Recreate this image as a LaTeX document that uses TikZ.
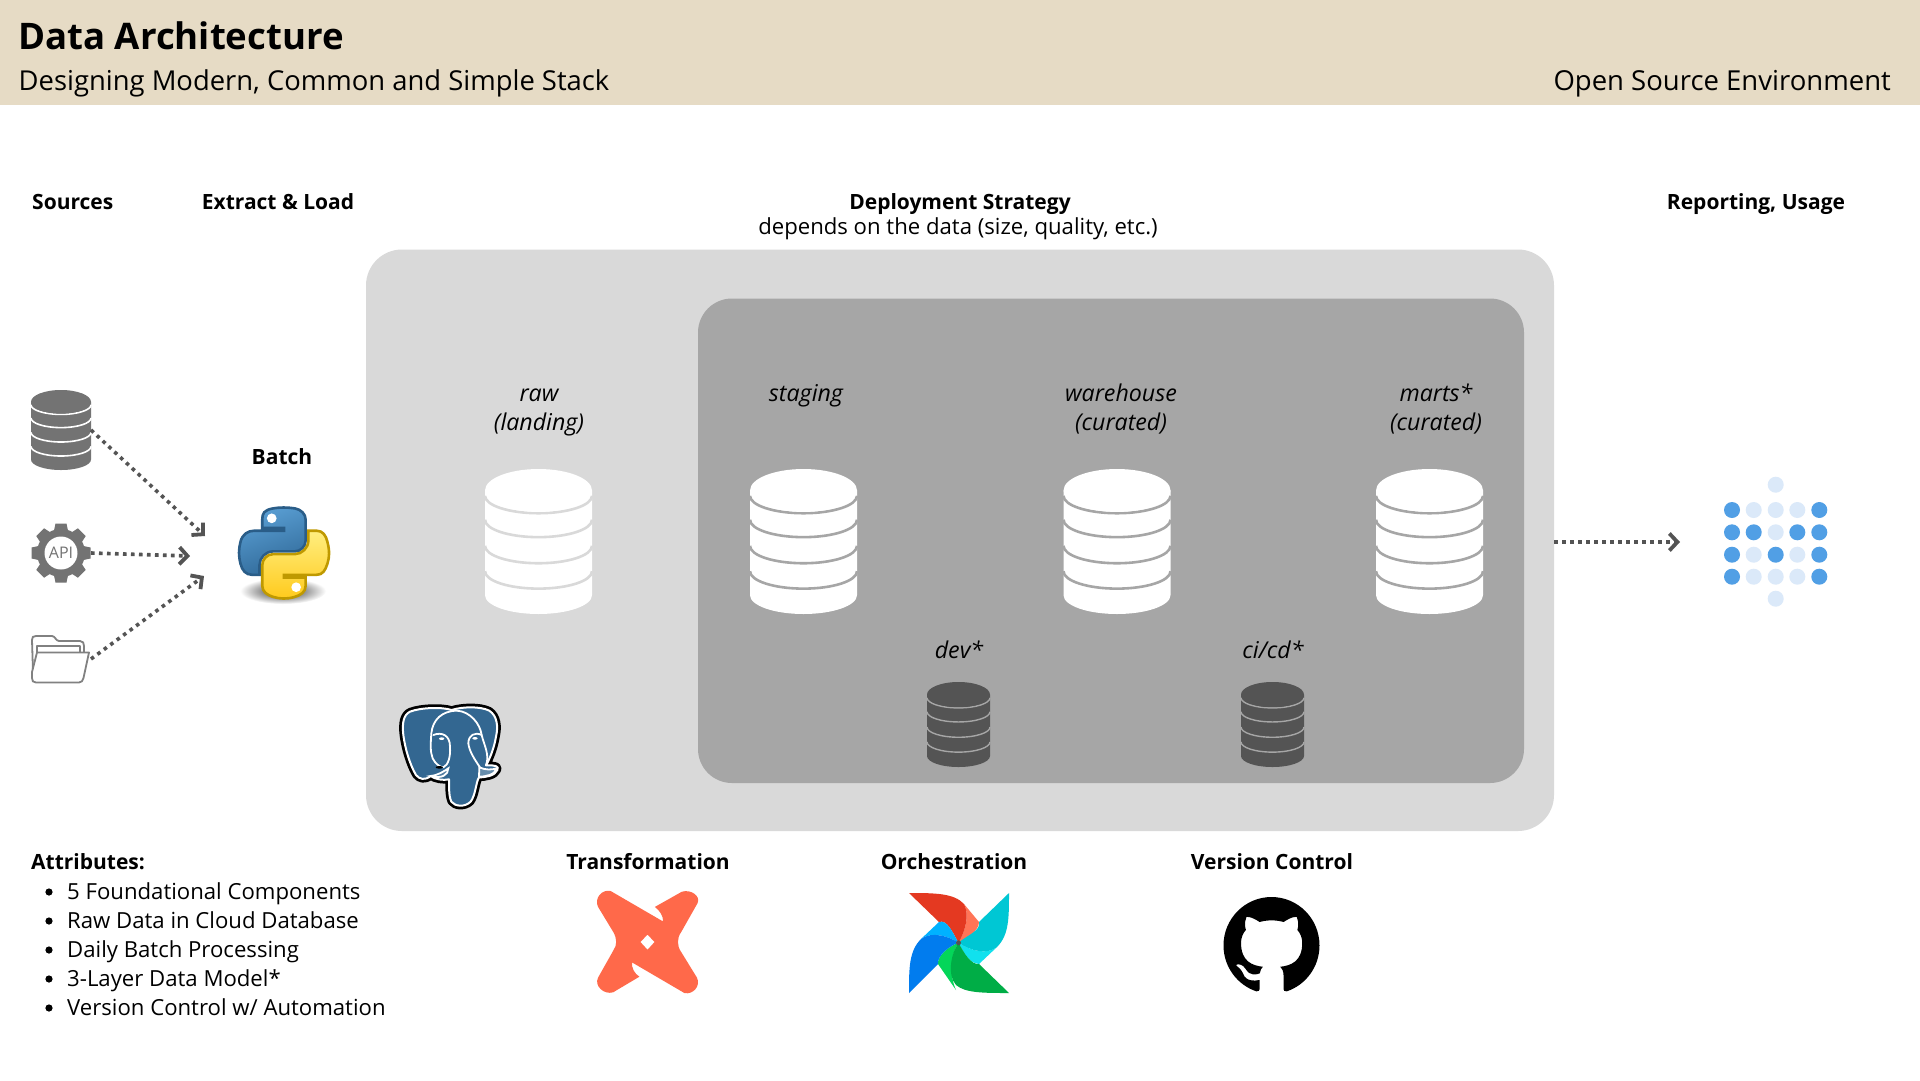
\documentclass[tikz,border=0pt]{standalone}
\usepackage{fontspec}
\setmainfont{Open Sans}
\usetikzlibrary{arrows.meta,shadings}
\definecolor{band}{HTML}{E6DBC5}
\definecolor{panelA}{HTML}{D9D9D9}
\definecolor{panelB}{HTML}{A6A6A6}
\definecolor{dbdark}{HTML}{545454}
\definecolor{dbsrc}{HTML}{737373}
\definecolor{arrowc}{HTML}{545454}
\definecolor{dotD}{HTML}{519FE5}
\definecolor{dotL}{HTML}{DBE9F9}
\definecolor{pgblue}{HTML}{336791}
\definecolor{dbtc}{HTML}{FF694A}
\definecolor{pyblueA}{HTML}{5A9FD4}
\definecolor{pyblueB}{HTML}{306998}
\definecolor{pyblueD}{HTML}{2A5D88}
\definecolor{pyyelA}{HTML}{FFEE80}
\definecolor{pyyelB}{HTML}{FFCA1C}
\definecolor{pyyelD}{HTML}{BF9900}
\definecolor{afRed}{HTML}{E43921}
\definecolor{afRedL}{HTML}{FF7557}
\definecolor{afCyan}{HTML}{00C7D4}
\definecolor{afCyanL}{HTML}{11E1EE}
\definecolor{afGreen}{HTML}{00AD46}
\definecolor{afGreenL}{HTML}{04D659}
\definecolor{afBlue}{HTML}{017CEE}
\definecolor{afBlueL}{HTML}{00B2FF}
\tikzset{
  head/.style={anchor=base,inner sep=0pt,font=\fontsize{21}{26}\selectfont\bfseries,text=black},
  body/.style={anchor=base,inner sep=0pt,font=\fontsize{22.15}{26}\selectfont,text=black},
  layer/.style={anchor=base,inner sep=0pt,font=\fontsize{23.2}{26}\selectfont\itshape,text=black},
  flow/.style={draw=arrowc,line width=3.6pt,dash pattern=on 3.6pt off 4.4pt,
    -{Straight Barb[length=8pt,width=17pt,line width=3.8pt]}},
  dotb/.style={fill=dotD,draw=none},
  dotl/.style={fill=dotL,draw=none}
}
% cx, top, W, H, fill, line colour, line width
\newcommand\dbicon[7]{%
  \begin{scope}[shift={(#1,#2)},x=#3pt,y=-#4pt]
    \fill[#5] (-.5,.148) -- (-.5,.87) arc[start angle=180,end angle=0,x radius=.5,y radius=.13] -- (.5,.148) -- cycle;
    \foreach \c in {.185,.35,.53,.705}
      \draw[#6,line width=#7pt] (-.5,\c) arc[start angle=180,end angle=0,x radius=.5,y radius=.12];
    \fill[#5] (0,.148) ellipse[x radius=.5,y radius=.148];
  \end{scope}}
\begin{document}
\begin{tikzpicture}[x=1pt,y=-1pt]
\useasboundingbox (0,0) rectangle (1920,1080);
\fill[white] (0,0) rectangle (1920,1080);
\fill[band] (0,0) rectangle (1920,105);
\node[anchor=base west,inner sep=0pt,font=\fontsize{36.6}{40}\selectfont\bfseries] (title) at (18,49) {Data Architecture};
\node[anchor=base west,inner sep=0pt,font=\fontsize{27.4}{32}\selectfont] (sub) at (18.5,90) {Designing Modern, Common and Simple Stack};
\node[anchor=base east,inner sep=0pt,font=\fontsize{27.5}{32}\selectfont] (env) at (1891,90) {Open Source Environment};

\node[head,anchor=base west] (hsrc) at (32,209) {Sources};
\node[head] (hel) at (278,209) {Extract \& Load};
\node[head] (hdep) at (960,209) {Deployment Strategy};
\node[body] (hdep2) at (958,234) {depends on the data (size, quality, etc.)};
\node[head] (hrep) at (1756,209) {Reporting, Usage};
\node[head] (hbatch) at (282,464) {Batch};

% panels
\fill[panelA,rounded corners=36pt] (366,249.5) rectangle (1554,831);
\fill[panelB,rounded corners=34pt] (698,298.5) rectangle (1524,783);
\coordinate (outerE) at (1554,542);
\coordinate (repIn) at (1680,542);

\node[layer] (l1a) at (539,401) {raw};
\node[layer] (l1b) at (539,430) {(landing)};
\node[layer] (l2) at (806,401) {staging};
\node[layer] (l3a) at (1121,401) {warehouse};
\node[layer] (l3b) at (1121,430) {(curated)};
\node[layer] (l4a) at (1436,401) {marts*};
\node[layer] (l4b) at (1436,430) {(curated)};
\node[layer] (l5) at (959,658) {dev*};
\node[layer] (l6) at (1273,658) {ci/cd*};

\dbicon{538.5}{469}{107}{145}{white}{panelA}{2.6}
\dbicon{803.5}{469}{107}{145}{white}{panelB}{2.6}
\dbicon{1117}{469}{107}{145}{white}{panelB}{2.6}
\dbicon{1429.5}{469}{107}{145}{white}{panelB}{2.6}
\dbicon{958.5}{682}{63}{85}{dbdark}{panelB}{1.4}
\dbicon{1272.5}{682}{63}{85}{dbdark}{panelB}{1.4}

% sources
\dbicon{61}{390}{60}{80}{dbsrc}{white}{1.6}
\coordinate (srcDb) at (91,430);
\coordinate (srcApi) at (91,553);
\coordinate (srcFile) at (91,659);
\coordinate (tgtA) at (205,536);
\coordinate (tgtB) at (190,556);
\coordinate (tgtC) at (204,576);
% gear
\coordinate (gear) at (61,553);
\fill[dbsrc] (gear) circle (24);
\foreach \a in {0,45,...,315}{
  \begin{scope}[shift={(61,553)},rotate=\a]
    \fill[dbsrc] (-7.5,20) -- (-5.5,29.5) -- (5.5,29.5) -- (7.5,20) -- cycle;
  \end{scope}}
\node[circle,fill=white,inner sep=0pt,minimum size=33pt,text=dbsrc,font=\fontsize{16}{18}\selectfont] (api) at (gear) {API};
% folder
\draw[dbsrc!90,line width=1.8pt,line join=round,fill=white] (33,672) -- (32,640) .. controls (32,637) and (33,636) .. (36,636) -- (52,636) .. controls (55,636) and (56,641) .. (59,641) -- (80,641) .. controls (83,641) and (84,643) .. (84,646) -- (84,652);
\draw[dbsrc!90,line width=1.8pt,line join=round] (37,652) -- (37,646) -- (80,646) -- (80,652);
\draw[dbsrc!90,line width=1.8pt,line join=round,fill=white] (37,652.5) -- (89,652.5) -- (83.5,678) .. controls (83,681) and (81,682.5) .. (79,682.5) -- (36,682.5) .. controls (33,682.5) and (32,681) .. (32,678) -- (32,672) -- cycle;

\draw[flow] (srcDb) -- (tgtA);
\draw[flow] (srcApi) -- (tgtB);
\draw[flow] (srcFile) -- (tgtC);
\draw[flow] (outerE) -- (repIn);

% python
\shade[inner color=black!85,outer color=white] (283,591) ellipse[x radius=43,y radius=13];
\begin{scope}[shift={(239,507.5)},scale=.81]
  \path[draw=pyblueD,line width=2.6pt,top color=pyblueA,bottom color=pyblueB,shading angle=20]
   (54.92,0) .. controls (50.34,.02) and (45.96,.41) .. (42.11,1.09)
   .. controls (30.76,3.10) and (28.70,7.29) .. (28.70,15.03)
   -- (28.70,25.25) -- (55.51,25.25) -- (55.51,28.66) -- (18.64,28.66)
   .. controls (10.85,28.66) and (4.02,33.34) .. (1.89,42.25)
   .. controls (-.57,52.46) and (-.68,58.84) .. (1.89,69.50)
   .. controls (3.80,77.44) and (8.35,83.09) .. (16.14,83.09)
   -- (25.36,83.09) -- (25.36,70.84)
   .. controls (25.36,61.99) and (33.02,54.18) .. (42.11,54.18)
   -- (68.89,54.18)
   .. controls (76.34,54.18) and (82.30,48.04) .. (82.30,40.55)
   -- (82.30,15.02)
   .. controls (82.30,7.75) and (76.17,2.30) .. (68.89,1.08)
   .. controls (64.28,.33) and (59.50,-.02) .. (54.92,0) -- cycle;
  \fill[white] (40.42,13.34) circle (6);
  \path[draw=pyyelD,line width=2.6pt,top color=pyyelA,bottom color=pyyelB]
   (85.64,28.66) -- (85.64,40.56)
   .. controls (85.64,49.79) and (77.81,57.56) .. (68.89,57.56)
   -- (42.11,57.56)
   .. controls (34.77,57.56) and (28.70,63.84) .. (28.70,71.19)
   -- (28.70,96.72)
   .. controls (28.70,103.99) and (35.02,108.26) .. (42.11,110.35)
   .. controls (50.60,112.85) and (58.74,113.30) .. (68.89,110.35)
   .. controls (75.64,108.40) and (82.30,104.46) .. (82.30,96.72)
   -- (82.30,86.50) -- (55.52,86.50) -- (55.52,83.09) -- (95.71,83.09)
   .. controls (103.50,83.09) and (106.41,77.65) .. (109.12,69.50)
   .. controls (111.92,61.10) and (111.86,53.02) .. (109.12,42.25)
   .. controls (107.19,34.49) and (103.52,28.66) .. (95.71,28.66) -- cycle;
  \fill[white] (70.57,98.41) circle (6);
\end{scope}

% elephant (coordinates of a 3x crop)
\begin{scope}[shift={(380,680)},scale=1/3]
  \def\eleph{(215,90) .. controls (245,80) and (300,78) .. (328,92) .. controls (352,108) and (355,140) .. (348,170) .. controls (342,205) and (330,235) .. (318,256) .. controls (345,255) and (358,258) .. (352,270) .. controls (345,288) and (315,292) .. (297,292) .. controls (288,305) and (287,345) .. (272,365) .. controls (255,382) and (225,380) .. (214,365) .. controls (205,345) and (208,315) .. (207,298) .. controls (190,302) and (165,298) .. (152,288) .. controls (135,302) and (118,298) .. (108,285) .. controls (90,255) and (75,205) .. (70,165) .. controls (66,130) and (70,105) .. (90,95) .. controls (120,83) and (185,80) .. (215,90) -- cycle}
  \draw[black,line width=7.5pt,line join=round] \eleph;
  \draw[white,line width=2pt,line join=round,fill=pgblue] \eleph;
  \draw[white,line width=1.8pt,line cap=round] (232,92) .. controls (185,92) and (158,120) .. (154,160) .. controls (152,190) and (150,215) .. (158,235) .. controls (165,250) and (180,262) .. (190,262);
  \draw[white,line width=1.8pt,line cap=round] (232,92) .. controls (270,95) and (300,130) .. (305,165) .. controls (312,195) and (330,225) .. (318,256);
  \draw[white,line width=1.8pt,line cap=round] (160,165) .. controls (185,155) and (210,165) .. (210,200) .. controls (212,230) and (205,255) .. (190,262);
  \draw[white,line width=1.8pt,line cap=round] (305,165) .. controls (285,155) and (265,165) .. (265,190) .. controls (268,215) and (285,240) .. (300,262);
  \draw[white,line width=1.8pt,fill=pgblue!85] (205,265) .. controls (205,285) and (185,297) .. (152,288) .. controls (175,285) and (190,275) .. (205,265) -- cycle;
  \draw[white,line width=1.8pt,fill=pgblue!75] (298,262) .. controls (315,270) and (335,270) .. (350,265) .. controls (345,285) and (315,290) .. (297,290) -- cycle;
  \fill[white] (185,176) ellipse[x radius=8,y radius=4];
  \fill[white] (285,175) ellipse[x radius=8,y radius=4];
  \fill[black] (178,262) ellipse[x radius=11,y radius=4];
\end{scope}

% reporting dots
\foreach \x in {1732,1819.3}\foreach \y in {510,532.3,554.7,576.7}\fill[dotb] (\x,\y) circle (8);
\foreach \x/\y in {1775.7/484.7,1775.7/598.7,1753.7/510,1775.7/510,1797.3/510,1775.7/532.3,1753.7/554.7,1797.3/554.7,1753.7/576.7,1775.7/576.7,1797.3/576.7}\fill[dotl] (\x,\y) circle (8);
\foreach \x/\y in {1753.7/532.3,1797.3/532.3,1775.7/554.7}\fill[dotb] (\x,\y) circle (8);

% attributes
\node[head,anchor=base west] (attr) at (31,869) {Attributes:};
\node[body,anchor=base west] (b1) at (67,899) {5 Foundational Components};
\node[body,anchor=base west] (b2) at (67,928) {Raw Data in Cloud Database};
\node[body,anchor=base west] (b3) at (67,957) {Daily Batch Processing};
\node[body,anchor=base west] (b4) at (67,986) {3-Layer Data Model*};
\node[body,anchor=base west] (b5) at (67,1015) {Version Control w/ Automation};
\foreach \y in {892,921,950,979,1008}\fill[black] (49,\y) circle (3.6);

\node[head] (ht) at (648,869) {Transformation};
\node[head] (ho) at (954,869) {Orchestration};
\node[head] (hv) at (1272,869) {Version Control};

% dbt
\begin{scope}[shift={(597,891)},x=101pt,y=-102pt]
  \fill[dbtc,even odd rule]
   (.135,0) -- (.653,.298) .. controls (.66,.25) and (.62,.19) .. (.573,.156) -- (.84,.007)
   .. controls (.93,-.02) and (1.03,.05) .. (.995,.12) -- (.835,.40)
   .. controls (.79,.46) and (.79,.54) .. (.835,.60) -- (.99,.85)
   .. controls (1.03,.93) and (.95,1.02) .. (.865,1) -- (.347,.70)
   .. controls (.34,.75) and (.37,.81) .. (.42,.84) -- (.16,.993)
   .. controls (.07,1.02) and (-.03,.93) .. (.01,.85) -- (.16,.586)
   .. controls (.2,.53) and (.2,.47) .. (.16,.40) -- (.01,.155)
   .. controls (-.03,.07) and (.05,-.02) .. (.135,0) -- cycle
   (.5,.427) -- (.57,.5) -- (.5,.576) -- (.43,.5) -- cycle;
\end{scope}

% airflow
\begin{scope}[shift={(909,893)},x=100pt,y=-100pt]
  \coordinate (af) at (.495,.498);
  \fill[afRedL] (.55,.11) -- (.70,.29) .. controls (.70,.38) and (.58,.45) .. (af) .. controls (.58,.35) and (.6,.2) .. (.55,.11) -- cycle;
  \fill[afRed] (0,0) .. controls (.25,0) and (.45,.0) .. (.55,.11) .. controls (.6,.2) and (.58,.35) .. (af) .. controls (.44,.40) and (.38,.26) .. (.30,.29) -- cycle;
  \fill[afCyanL] (.88,.54) -- (.70,.71) .. controls (.6,.7) and (.55,.6) .. (af) .. controls (.62,.58) and (.78,.62) .. (.88,.54) -- cycle;
  \fill[afCyan] (1,0) .. controls (1,.25) and (1,.42) .. (.88,.54) .. controls (.78,.62) and (.62,.58) .. (af) .. controls (.58,.42) and (.72,.38) .. (.70,.29) -- cycle;
  \fill[afGreenL] (.29,.71) -- (.47,.97) .. controls (.40,.82) and (.42,.60) .. (af) .. controls (.42,.52) and (.28,.62) .. (.29,.71) -- cycle;
  \fill[afGreen] (1,1) .. controls (.75,1) and (.56,1) .. (.47,.92) .. controls (.38,.82) and (.42,.60) .. (af) .. controls (.55,.6) and (.62,.72) .. (.70,.71) -- cycle;
  \fill[afBlueL] (.30,.29) -- (.12,.46) .. controls (.22,.38) and (.40,.43) .. (af) .. controls (.44,.40) and (.38,.26) .. (.30,.29) -- cycle;
  \fill[afBlue] (0,1) .. controls (0,.75) and (0,.58) .. (.12,.46) .. controls (.22,.38) and (.40,.43) .. (af) .. controls (.42,.52) and (.28,.62) .. (.29,.71) -- cycle;
  \fill[dbdark] (af) circle (2.5pt);
\end{scope}

% github
\begin{scope}[shift={(1223.5,897)},x=6.0pt,y=-6.05pt]
  \fill[black] (8,0) .. controls (3.58,0) and (0,3.58) .. (0,8)
   .. controls (0,11.54) and (2.29,14.53) .. (5.47,15.59)
   .. controls (5.87,15.66) and (6.02,15.42) .. (6.02,15.21)
   .. controls (6.02,15.02) and (6.01,14.39) .. (6.01,13.72)
   .. controls (4.00,14.09) and (3.48,13.23) .. (3.32,12.78)
   .. controls (3.23,12.55) and (2.84,11.84) .. (2.50,11.65)
   .. controls (2.22,11.50) and (1.82,11.13) .. (2.49,11.12)
   .. controls (3.12,11.11) and (3.57,11.70) .. (3.72,11.94)
   .. controls (4.44,13.15) and (5.59,12.81) .. (6.05,12.60)
   .. controls (6.12,12.08) and (6.33,11.73) .. (6.56,11.53)
   .. controls (4.78,11.33) and (2.92,10.64) .. (2.92,7.58)
   .. controls (2.92,6.71) and (3.23,5.99) .. (3.74,5.43)
   .. controls (3.66,5.23) and (3.38,4.41) .. (3.82,3.31)
   .. controls (3.82,3.31) and (4.49,3.10) .. (6.02,4.13)
   .. controls (6.66,3.95) and (7.34,3.86) .. (8.02,3.86)
   .. controls (8.70,3.86) and (9.38,3.95) .. (10.02,4.13)
   .. controls (11.55,3.09) and (12.22,3.31) .. (12.22,3.31)
   .. controls (12.66,4.41) and (12.38,5.23) .. (12.30,5.43)
   .. controls (12.81,5.99) and (13.12,6.70) .. (13.12,7.58)
   .. controls (13.12,10.65) and (11.25,11.33) .. (9.47,11.53)
   .. controls (9.76,11.78) and (10.01,12.26) .. (10.01,13.01)
   .. controls (10.01,14.08) and (10.00,14.94) .. (10.00,15.21)
   .. controls (10.00,15.42) and (10.15,15.67) .. (10.55,15.59)
   .. controls (13.71,14.53) and (16,11.54) .. (16,8)
   .. controls (16,3.58) and (12.42,0) .. (8,0) -- cycle;
\end{scope}
\end{tikzpicture}
\end{document}
